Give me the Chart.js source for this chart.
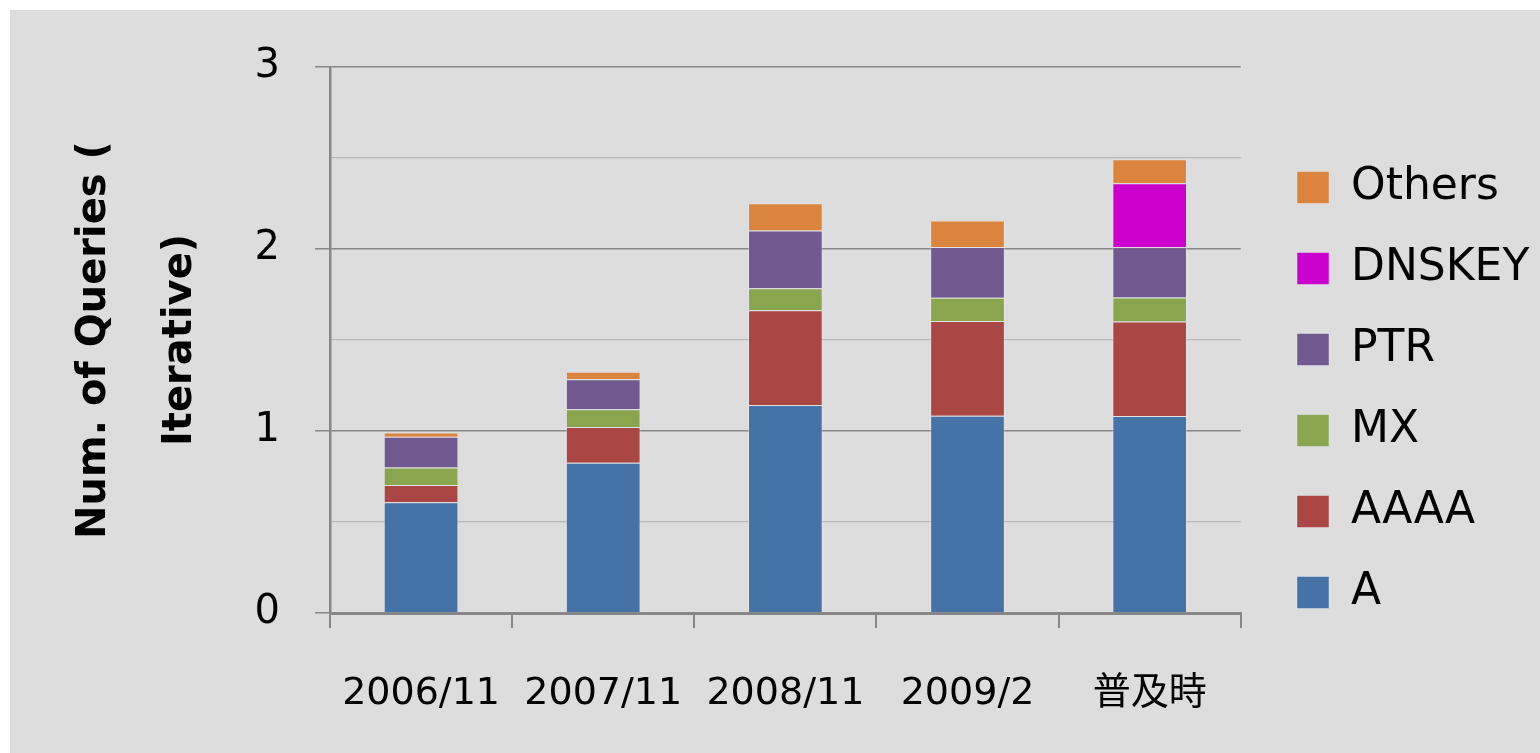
<!DOCTYPE html>
<html>
<head>
<meta charset="utf-8">
<script src="https://cdn.jsdelivr.net/npm/chart.js@4.4.1/dist/chart.umd.min.js"></script>
<style>
  html, body { margin: 0; padding: 0; background: #ffffff; }
  canvas { display: block; }
</style>
</head>
<body>
<canvas id="myChart" width="1540" height="753"></canvas>
<script>
// categories and values
const categories = ['2006/11', '2007/11', '2008/11', '2009/2', '普及時'];
const seriesA      = [0.608, 0.826, 1.143, 1.084, 1.082];
const seriesAAAA   = [0.095, 0.196, 0.520, 0.520, 0.519];
const seriesMX     = [0.097, 0.097, 0.121, 0.128, 0.132];
const seriesPTR    = [0.168, 0.165, 0.317, 0.279, 0.276];
const seriesDNSKEY = [null, null, null, null, 0.352];
const seriesOthers = [0.024, 0.042, 0.150, 0.145, 0.132];
const yTickValues  = [0, 1, 2, 3];

const FONT = "'DejaVu Sans', 'Noto Sans CJK JP', sans-serif";
const AXIS_DARK = '#878787';
const GRID_LIGHT = '#b9b9b9';

const bgPlugin = {
  id: 'grayBg',
  beforeDraw(chart) {
    const ctx = chart.ctx;
    ctx.save();
    ctx.fillStyle = '#dddddd';
    ctx.fillRect(10, 10, chart.width - 10, chart.height - 10);
    ctx.restore();
  }
};

// nudge the legend block to sit where the original one sits
const legendNudge = {
  id: 'legendNudge',
  afterLayout(chart) {
    const l = chart.legend;
    const dx = 1260 - l.left;
    const dy = -20;
    l.left += dx; l.right += dx;
    l.top += dy; l.bottom += dy;
  }
};

function ds(label, data, color) {
  return {
    label: label,
    data: data,
    backgroundColor: color,
    borderColor: 'rgba(235,235,245,0.45)',
    borderWidth: 1,
    barPercentage: 0.41,
    categoryPercentage: 1.0
  };
}

const ctx = document.getElementById('myChart').getContext('2d');
new Chart(ctx, {
  type: 'bar',
  data: {
    labels: categories,
    datasets: [
      ds('A', seriesA, '#4572a7'),
      ds('AAAA', seriesAAAA, '#aa4643'),
      ds('MX', seriesMX, '#89a54e'),
      ds('PTR', seriesPTR, '#71588f'),
      ds('DNSKEY', seriesDNSKEY, '#cc00cc'),
      ds('Others', seriesOthers, '#db843d')
    ]
  },
  options: {
    responsive: false,
    animation: false,
    layout: { padding: { top: 67, right: 20, left: 0, bottom: 0 } },
    plugins: {
      tooltip: { enabled: false },
      legend: {
        position: 'right',
        reverse: true,
        labels: {
          font: { family: FONT, size: 44 },
          color: '#000000',
          boxWidth: 32,
          boxHeight: 32,
          padding: 37
        }
      }
    },
    scales: {
      x: {
        stacked: true,
        afterFit: (s) => { s.height = 140; },
        grid: {
          offset: true,
          drawOnChartArea: false,
          color: AXIS_DARK,
          lineWidth: 2,
          tickLength: 15
        },
        border: { color: AXIS_DARK, width: 3 },
        ticks: {
          font: { family: FONT, size: 38 },
          color: '#000000',
          padding: 43,
          maxRotation: 0,
          autoSkip: false
        }
      },
      y: {
        stacked: true,
        min: 0,
        max: 3,
        afterFit: (s) => { s.width = 330; },
        grid: {
          color: (c) => (yTickValues.includes(c.tick.value) ? AXIS_DARK : GRID_LIGHT),
          lineWidth: (c) => (yTickValues.includes(c.tick.value) ? 1.5 : 1.2),
          tickColor: (c) => (yTickValues.includes(c.tick.value) ? AXIS_DARK : 'rgba(0,0,0,0)'),
          tickLength: 15
        },
        border: { color: AXIS_DARK, width: 2.5 },
        ticks: {
          stepSize: 0.5,
          font: { family: FONT, size: 40 },
          color: '#000000',
          padding: 35,
          callback: (v) => (yTickValues.includes(v) ? v : '')
        },
        title: {
          display: true,
          text: ['Num. of Queries (', 'Iterative)'],
          font: { family: FONT, size: 40, weight: 'bold', lineHeight: 2.15 },
          color: '#000000',
          padding: { top: 52, bottom: 0 }
        }
      }
    }
  },
  plugins: [bgPlugin, legendNudge]
});
</script>
</body>
</html>
